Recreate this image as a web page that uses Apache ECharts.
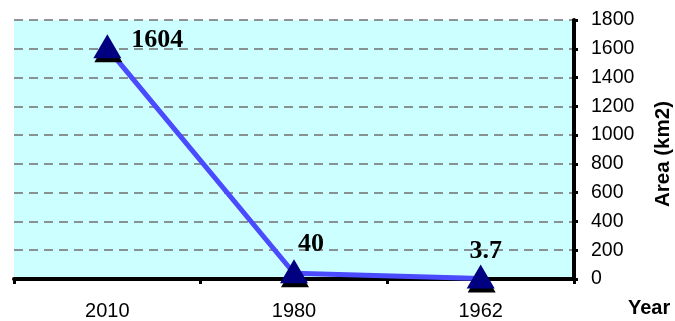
<!DOCTYPE html>
<html><head><meta charset="utf-8">
<script src="https://cdn.jsdelivr.net/npm/echarts@6/dist/echarts.min.js"></script>
<style>html,body{margin:0;padding:0;background:#fff}#c{width:675px;height:321px}</style>
</head><body><div id="c"></div>
<script>
const categories = ['2010', '1980', '1962'];
const areaValues = [1604, 40, 3.7];
const areaLabels = ['1604', '40', '3.7'];
const yAxisTitle = 'Area (km2)';
const xAxisTitle = 'Year';

const labelPlacement = [
  {position: 'right', distance: 10, offset: [0, -6]},
  {position: 'top', distance: 2, offset: [17, 0]},
  {position: 'top', distance: 0, offset: [5, 0]}
];

const chart = echarts.init(document.getElementById('c'), null, {renderer: 'canvas'});
chart.setOption({
  animation: false,
  backgroundColor: '#ffffff',
  grid: {left: 14, right: 101, top: 20, bottom: 41, show: true, backgroundColor: '#ccffff', borderWidth: 0},
  xAxis: {
    type: 'category', data: categories, boundaryGap: true,
    axisLine: {lineStyle: {color: '#000', width: 4}},
    axisTick: {show: true, length: 5, lineStyle: {color: '#000', width: 3}},
    axisLabel: {fontFamily: 'Liberation Sans', fontSize: 20, color: '#000', margin: 22},
    splitLine: {show: false}
  },
  yAxis: {
    type: 'value', position: 'right', min: 0, max: 1800, interval: 200,
    axisLine: {show: true, lineStyle: {color: '#000', width: 4}},
    axisTick: {show: true, length: 4, lineStyle: {color: '#000', width: 3}},
    axisLabel: {fontFamily: 'Liberation Sans', fontSize: 19.5, color: '#000', margin: 17, formatter: v => String(v)},
    splitLine: {show: true, lineStyle: {color: '#707070', width: 1.5, type: [9, 6]}}
  },
  graphic: [
    {type: 'text', left: 628, top: 298, style: {text: xAxisTitle, fontFamily: 'Liberation Sans', fontWeight: 'bold', fontSize: 20, fill: '#000'}},
    {type: 'text', x: 663, y: 154, rotation: Math.PI / 2, style: {text: yAxisTitle, fontFamily: 'Liberation Sans', fontWeight: 'bold', fontSize: 20.5, fill: '#000', align: 'center', verticalAlign: 'middle'}}
  ],
  series: [{
    type: 'line',
    data: areaValues.map((v, i) => ({value: v, label: labelPlacement[i]})),
    symbol: 'triangle', symbolSize: [28, 24],
    symbolOffset: [0, -2],
    itemStyle: {color: '#000080', shadowColor: '#000', shadowOffsetY: 4, shadowOffsetX: 1, shadowBlur: 0},
    lineStyle: {color: '#4a4aff', width: 5},
    label: {
      show: true,
      formatter: p => areaLabels[p.dataIndex],
      fontFamily: 'Liberation Serif', fontWeight: 'bold', fontSize: 26, color: '#000'
    },
    emphasis: {disabled: true}
  }]
});
</script></body></html>
